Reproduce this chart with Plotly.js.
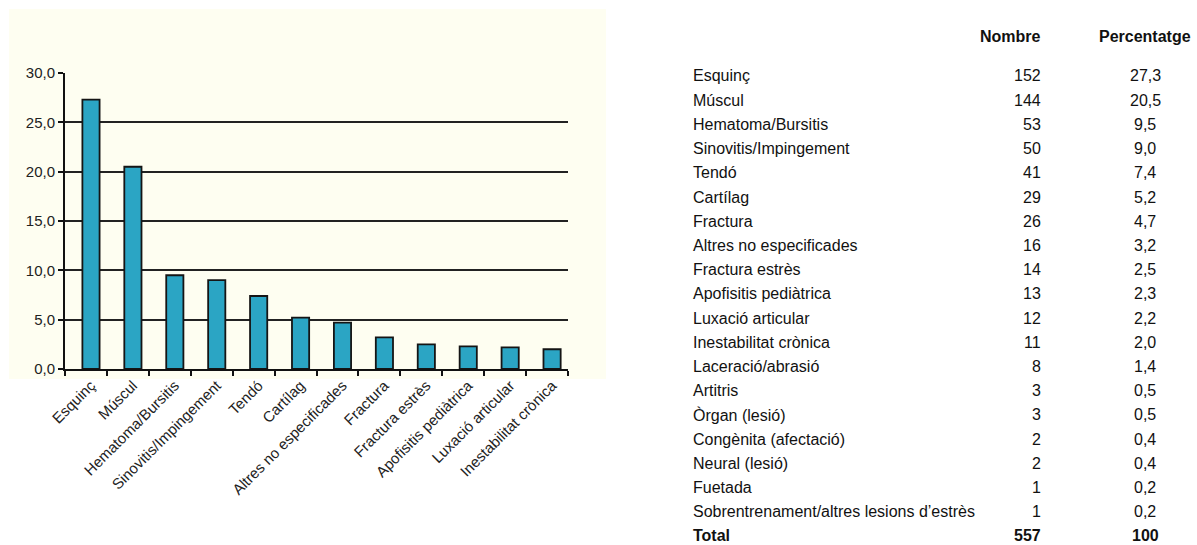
<!DOCTYPE html>
<html>
<head>
<meta charset="utf-8">
<script src="https://cdn.plot.ly/plotly-3.0.1.min.js"></script>
<style>html,body{margin:0;padding:0;background:#fff;}#chart{width:1197px;height:545px;}</style>
</head>
<body>
<div id="chart"></div>
<script>
// Chart data (percentages)
const chartCategories = ["Esquinç", "Múscul", "Hematoma/Bursitis", "Sinovitis/Impingement", "Tendó", "Cartílag",
  "Altres no especificades", "Fractura", "Fractura estrès", "Apofisitis pediàtrica", "Luxació articular", "Inestabilitat crònica"];
const chartValues = [27.3, 20.5, 9.5, 9.0, 7.4, 5.2, 4.7, 3.2, 2.5, 2.3, 2.2, 2.0];
const yTickValues = [0, 5, 10, 15, 20, 25, 30];

// Table data
const tableNames = ["Esquinç", "Múscul", "Hematoma/Bursitis", "Sinovitis/Impingement", "Tendó", "Cartílag", "Fractura",
  "Altres no especificades", "Fractura estrès", "Apofisitis pediàtrica", "Luxació articular", "Inestabilitat crònica",
  "Laceració/abrasió", "Artitris", "Òrgan (lesió)", "Congènita (afectació)", "Neural (lesió)", "Fuetada",
  "Sobrentrenament/altres lesions d’estrès"];
const tableCounts = ["152", "144", "53", "50", "41", "29", "26", "16", "14", "13", "12", "11", "8", "3", "3", "2", "2", "1", "1"];
const tablePercents = ["27,3", "20,5", "9,5", "9,0", "7,4", "5,2", "4,7", "3,2", "2,5", "2,3", "2,2", "2,0", "1,4", "0,5", "0,5", "0,4", "0,4", "0,2", "0,2"];
const totalLabel = "Total";
const totalCount = "557";
const totalPercent = "100";
const headerCount = "Nombre";
const headerPercent = "Percentatge";

// Layout geometry (pixels)
const W = 1197, H = 545;
const plotL = 65, plotR = 568, plotT = 73, plotB = 369;
const px = x => (x - plotL) / (plotR - plotL);
const py = y => (plotB - y) / (plotB - plotT);

const FONT = '"Liberation Sans", Arial, Helvetica, sans-serif';
const annots = [];
const rowY0 = 76, rowStep = 24.2;
const nameX = 691, countX = 1043, pctX = 1145;
function addText(text, x, y, anchor, bold) {
  annots.push({
    text: bold ? '<b>' + text + '</b>' : text,
    xref: 'paper', yref: 'paper', x: px(x), y: py(y),
    xanchor: anchor, yanchor: 'middle', showarrow: false,
    font: {family: FONT, size: 16, color: '#111'}
  });
}
addText(headerCount, countX, 37, 'right', true);
addText(headerPercent, pctX, 37, 'center', true);
tableNames.forEach((n, i) => {
  const y = rowY0 + i * rowStep;
  addText(n, nameX, y, 'left', false);
  addText(tableCounts[i], countX, y, 'right', false);
  addText(tablePercents[i], pctX, y, 'center', false);
});
const ty = rowY0 + tableNames.length * rowStep;
addText(totalLabel, nameX, ty, 'left', true);
addText(totalCount, countX, ty, 'right', true);
addText(totalPercent, pctX, ty, 'center', true);

const trace = {
  type: 'bar',
  x: chartCategories,
  y: chartValues,
  width: 0.41,
  offset: -0.085,
  marker: {color: '#2ba5c4', line: {color: '#151515', width: 1.8}},
  hoverinfo: 'x+y'
};

const layout = {
  width: W, height: H,
  margin: {l: plotL, r: W - plotR, t: plotT, b: H - plotB, pad: 0},
  paper_bgcolor: '#ffffff',
  plot_bgcolor: 'rgba(0,0,0,0)',
  showlegend: false,
  separators: ',.',
  shapes: [{
    type: 'rect', xref: 'paper', yref: 'paper', layer: 'below',
    x0: px(9), x1: px(606), y0: py(379), y1: py(9),
    fillcolor: '#fefef1', line: {width: 0}
  }],
  annotations: annots,
  xaxis: {
    type: 'category',
    range: [-0.5, 11.5],
    showline: true, linecolor: '#111', linewidth: 2,
    ticks: 'outside', tickson: 'boundaries', ticklen: 5, tickwidth: 2, tickcolor: '#111',
    tickangle: -45,
    ticklabelshift: 5,
    tickfont: {family: FONT, size: 15, color: '#222'},
    showgrid: false, zeroline: false, fixedrange: true
  },
  yaxis: {
    range: [0, 30],
    tickvals: yTickValues,
    tickformat: '.1f',
    showline: true, linecolor: '#111', linewidth: 2,
    ticks: 'outside', ticklen: 5, tickwidth: 2, tickcolor: '#111',
    tickfont: {family: FONT, size: 15, color: '#222'},
    showgrid: true, gridcolor: '#222', gridwidth: 2,
    zeroline: false, fixedrange: true
  }
};

Plotly.newPlot('chart', [trace], layout, {staticPlot: true, displayModeBar: false});
</script>
</body>
</html>
